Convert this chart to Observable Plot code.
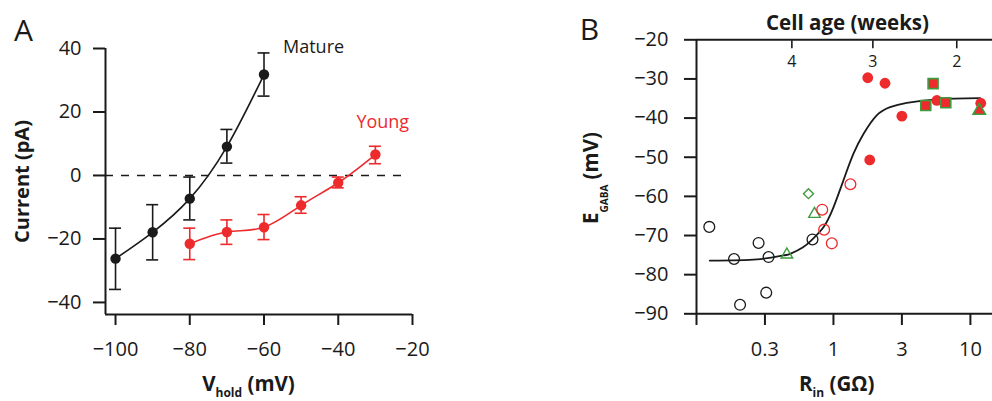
<!DOCTYPE html>
<html><head><meta charset="utf-8">
<script src="https://cdn.jsdelivr.net/npm/d3@7"></script>
<script src="https://cdn.jsdelivr.net/npm/@observablehq/plot@0.6"></script>
<style>
body{margin:0;background:#fff;}
#wrap{position:relative;width:992px;height:401px;overflow:hidden;background:#fff;}
#a,#b{position:absolute;top:0;}
#a{left:0}#b{left:560px}
svg text{font-family:"Open Sans",sans-serif}
</style></head><body>
<div id="wrap"><div id="a"></div><div id="b"></div></div>
<script>
// ---------- Panel A data ----------
const matureV    = [-100, -90, -80, -70, -60];
const matureMean = [-26.2, -17.9, -7.3, 9.1, 31.8];
const matureLo   = [-35.9, -26.6, -14.0, 3.9, 25.0];
const matureHi   = [-16.6, -9.2, -0.5, 14.5, 38.6];

const youngV     = [-80, -70, -60, -50, -40, -30];
const youngMean  = [-21.5, -17.8, -16.3, -9.4, -2.3, 6.6];
const youngLo    = [-26.5, -21.7, -20.2, -11.9, -3.9, 3.7];
const youngHi    = [-16.6, -14.0, -12.3, -6.7, -0.5, 9.2];

const xTicksA = [-100, -80, -60, -40, -20];
const yTicksA = [-40, -20, 0, 20, 40];

// ---------- Panel B data ----------
const blackOpenRin = [0.124, 0.188, 0.208, 0.284, 0.336, 0.323, 0.703];
const blackOpenE   = [-67.8, -76.0, -87.7, -71.9, -75.5, -84.6, -71.0];
const greenTriRin  = [0.457, 0.727];
const greenTriE    = [-74.9, -64.5];
const greenDiaRin  = [0.657];
const greenDiaE    = [-59.3];
const redOpenRin   = [0.828, 0.855, 0.973, 1.33];
const redOpenE     = [-63.4, -68.5, -72.0, -56.9];
const redFillRin   = [1.78, 2.38, 3.16, 1.84, 5.69, 11.9];
const redFillE     = [-29.7, -31.1, -39.5, -50.7, -35.5, -36.2];
const squareRin    = [5.34, 4.72, 6.61];
const squareE      = [-31.2, -36.8, -36.1];
const redTriRin    = [11.6];
const redTriE      = [-38.1];

const fitRin = [0.125, 0.277, 0.43, 0.483, 0.6, 0.695, 0.845, 1.0, 1.18, 1.4, 1.66, 2.07, 2.59, 3.43, 5.69, 11.8];
const fitE   = [-76.4, -76.1, -75.1, -74.7, -73.0, -71.1, -67.9, -62.8, -56.0, -49.1, -44.0, -39.3, -37.2, -36.1, -35.2, -34.9];

const rinTicks  = [0.1, 0.316, 1, 3.16, 10];
const rinLabels = ["", "0.3", "1", "3", "10"];
const yTicksB   = [-90, -80, -70, -60, -50, -40, -30, -20];
const ageTickRin = [0.497, 1.94, 7.95];
const ageLabels  = ["4", "3", "2"];

// ---------- helpers ----------
const ink = "#1a1a1a", red = "#ed2a2c", green = "#3e9b3e";
const fmt = d => (d < 0 ? "\u2212" + Math.abs(d) : String(d));
const zip = (xs, ys) => xs.map((x, i) => ({x, y: ys[i]}));
const errTbl = (v, m, lo, hi) => v.map((x, i) => ({x, y: m[i], lo: lo[i], hi: hi[i]}));
const mature = errTbl(matureV, matureMean, matureLo, matureHi);
const young = errTbl(youngV, youngMean, youngLo, youngHi);
const axisLine = {stroke: ink, strokeWidth: 2};
const baseStyle = {fontFamily: "Open Sans", fontSize: "20px", color: ink, background: "transparent", overflow: "visible"};
const rinLabelMap = new Map(rinTicks.map((t, i) => [t, rinLabels[i]]));

function seriesA(tbl, color, label, ldx, ldy) {
  return [
    Plot.line(tbl, {x: "x", y: "y", curve: "natural", stroke: color, strokeWidth: 1.6}),
    Plot.ruleX(tbl, {x: "x", y1: "lo", y2: "hi", stroke: color, strokeWidth: 1.6}),
    Plot.ruleY(tbl, {y: "lo", x1: "x", x2: "x", insetLeft: -6, insetRight: -6, stroke: color, strokeWidth: 1.6}),
    Plot.ruleY(tbl, {y: "hi", x1: "x", x2: "x", insetLeft: -6, insetRight: -6, stroke: color, strokeWidth: 1.6}),
    Plot.dot(tbl, {x: "x", y: "y", r: 5.2, fill: color}),
    Plot.text(tbl.slice(-1), {x: "x", y: "y", text: () => label, dx: ldx, dy: ldy, textAnchor: "start", lineAnchor: "bottom", fill: color, fontSize: 18})
  ];
}

const plotA = Plot.plot({
  width: 470, height: 401,
  marginLeft: 105, marginRight: 58, marginTop: 48, marginBottom: 87,
  style: baseStyle,
  x: {domain: [-102.7, -20]},
  y: {domain: [-43.8, 40]},
  marks: [
    Plot.ruleY([0], {strokeDasharray: "8,8", strokeWidth: 1.5, insetRight: 7, stroke: ink}),
    Plot.ruleX([-102.7], axisLine),
    Plot.ruleY([-43.8], axisLine),
    Plot.axisY({ticks: yTicksA, tickFormat: fmt, tickSize: 12, tickPadding: 12, strokeWidth: 2, label: null}),
    Plot.axisX({ticks: xTicksA, tickFormat: fmt, tickSize: 11, tickPadding: 16, strokeWidth: 2, label: null}),
    Plot.text(["Current (pA)"], {frameAnchor: "left", dx: -77, rotate: -90, textAnchor: "middle", lineAnchor: "bottom", fontWeight: "bold", fontSize: 20}),
    Plot.text(["A"], {frameAnchor: "top-left", dx: -82, dy: -8, textAnchor: "middle", lineAnchor: "bottom", fontSize: 30}),
    ...seriesA(young, red, "Young", -19, -27),
    ...seriesA(mature, ink, "Mature", 19, -22)
  ]
});
document.getElementById("a").appendChild(plotA);

const plotB = Plot.plot({
  width: 432, height: 401,
  marginLeft: 136, marginRight: 0, marginTop: 39.3, marginBottom: 87.7,
  style: baseStyle,
  x: {type: "log", domain: [0.1, 14.5]},
  y: {domain: [-90, -20]},
  marks: [
    Plot.ruleX([0.1], axisLine),
    Plot.ruleY([-90], axisLine),
    Plot.ruleY([-20], axisLine),
    Plot.axisY({ticks: yTicksB, tickFormat: fmt, tickSize: 12, tickPadding: 16, strokeWidth: 2, label: null}),
    Plot.axisX({ticks: rinTicks, tickFormat: d => rinLabelMap.get(d), tickSize: 11.7, tickPadding: 16, strokeWidth: 2, label: null}),
    Plot.axisX({anchor: "top", ticks: ageTickRin, tickSize: 8, dy: 8, tickFormat: () => "", strokeWidth: 1.6, label: null}),
    Plot.text(ageTickRin, {x: d => d, text: (d, i) => ageLabels[i], frameAnchor: "top", dy: 27.4, lineAnchor: "bottom", fontSize: 16}),
    Plot.text(["Cell age (weeks)"], {frameAnchor: "top", dx: 3, dy: -10.3, lineAnchor: "bottom", fontWeight: "bold", fontSize: 20.5}),
    Plot.text(["B"], {frameAnchor: "top-left", dx: -107, dy: 0, textAnchor: "middle", lineAnchor: "bottom", fontSize: 30}),
    Plot.line(zip(fitRin, fitE), {x: "x", y: "y", curve: "natural", stroke: ink, strokeWidth: 1.8}),
    Plot.dot(zip(blackOpenRin, blackOpenE), {x: "x", y: "y", r: 5.4, stroke: ink, strokeWidth: 1.3, fill: "none"}),
    Plot.dot(zip(greenTriRin, greenTriE), {x: "x", y: "y", symbol: "triangle", r: 4.3, stroke: green, strokeWidth: 1.4, fill: "none"}),
    Plot.dot(zip(greenDiaRin, greenDiaE), {x: "x", y: "y", symbol: "diamond2", r: 4.5, stroke: green, strokeWidth: 1.4, fill: "none"}),
    Plot.dot(zip(redOpenRin, redOpenE), {x: "x", y: "y", r: 5.4, stroke: red, strokeWidth: 1.3, fill: "none"}),
    Plot.dot(zip(redFillRin, redFillE), {x: "x", y: "y", r: 5.4, fill: red}),
    Plot.dot(zip(squareRin, squareE), {x: "x", y: "y", symbol: "square", r: 5.64, fill: red, stroke: green, strokeWidth: 1.6}),
    Plot.dot(zip(redTriRin, redTriE), {x: "x", y: "y", symbol: "triangle", r: 4.6, fill: red, stroke: green, strokeWidth: 1.6})
  ]
});
document.getElementById("b").appendChild(plotB);

function subLabel(svg, x, y, rotate, main, sub, rest, subSize, shift) {
  const t = d3.select(svg).append("text")
    .attr("text-anchor", "middle").attr("font-weight", "bold").attr("font-size", 20.5)
    .attr("fill", ink)
    .attr("transform", `translate(${x},${y})` + (rotate ? " rotate(-90)" : ""));
  t.append("tspan").text(main);
  t.append("tspan").attr("font-size", subSize).attr("dy", shift).text(sub);
  t.append("tspan").attr("dy", -shift).text(rest);
}
subLabel(plotA, 248.5, 391, false, "V", "hold", " (mV)", 12, 6);
subLabel(plotB, 276.7, 391, false, "R", "in", " (G\u03A9)", 12, 6);
subLabel(plotB, 38, 178, true, "E", "GABA", " (mV)", 10, 10);
</script>
</body></html>
